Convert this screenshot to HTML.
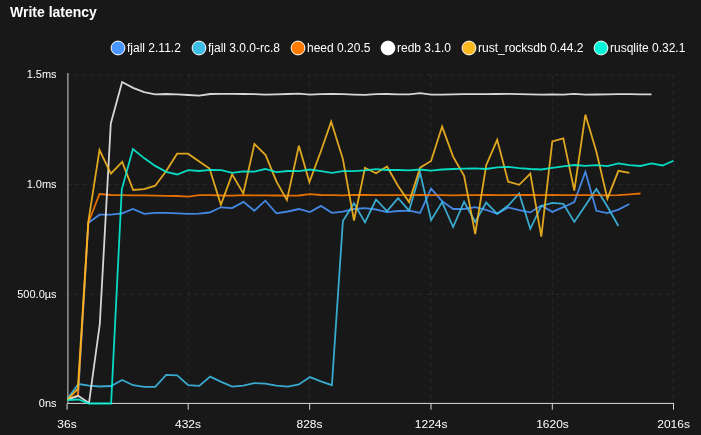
<!DOCTYPE html>
<html><head><meta charset="utf-8"><title>Write latency</title>
<style>
html,body{margin:0;padding:0;background:#181818;}
body{width:701px;height:435px;overflow:hidden;position:relative;font-family:"Liberation Sans",Arial,sans-serif;}
svg{position:absolute;left:0;top:0;}
text{font-family:"Liberation Sans",Arial,sans-serif;fill:#fff;}
.t{font-size:14px;font-weight:700;}
.l{font-size:12px;}
.a{font-size:11px;}
.x{font-size:12px;}
</style></head><body>
<svg width="701" height="435" viewBox="0 0 701 435">
<rect width="701" height="435" fill="#181818"/>
<text class="t" x="10" y="17">Write latency</text>
<g>
<circle cx="118" cy="48" r="6.9" fill="#4a96ff" stroke="#fff" stroke-width="1"/><text class="l" x="127" y="51.7">fjall 2.11.2</text>
<circle cx="199" cy="48" r="6.9" fill="#3dbde6" stroke="#fff" stroke-width="1"/><text class="l" x="208" y="51.7">fjall 3.0.0-rc.8</text>
<circle cx="298" cy="48" r="6.9" fill="#ff7b00" stroke="#fff" stroke-width="1"/><text class="l" x="307" y="51.7">heed 0.20.5</text>
<circle cx="388" cy="48" r="6.9" fill="#ffffff" stroke="#fff" stroke-width="1"/><text class="l" x="397" y="51.7">redb 3.1.0</text>
<circle cx="469" cy="48" r="6.9" fill="#fbb920" stroke="#fff" stroke-width="1"/><text class="l" x="478" y="51.7">rust_rocksdb 0.44.2</text>
<circle cx="601" cy="48" r="6.9" fill="#05f5da" stroke="#fff" stroke-width="1"/><text class="l" x="610" y="51.7">rusqlite 0.32.1</text>
</g>
<g stroke="#2a2a2a" stroke-width="1" stroke-dasharray="4 4" fill="none">
<path d="M67 75H673"/><path d="M67 184.4H673"/><path d="M67 294.25H673"/>
<path d="M188.4 75V403"/><path d="M309.6 75V403"/><path d="M431 75V403"/><path d="M552.4 75V403"/><path d="M673.5 75V403"/>
</g>
<g stroke="#dadada" stroke-width="1" fill="none">
<path d="M67.9 73V403.4" stroke="#d0d0d0"/><path d="M67.1 403.4V409.7"/><path d="M67.4 403.4H674"/>
<path d="M188.2 403V409.7"/><path d="M309.7 403V409.7"/><path d="M431 403V409.7"/><path d="M552.3 403V409.7"/><path d="M673.5 403V409.7"/>
</g>
<g fill="none" stroke-opacity="0.88">
<path d="M67.5 399.5 L78.1 395.5 L88.3 222.9 L99.5 214.7 L111.1 214.7 L122.1 213.4 L133.0 209.0 L144.1 213.8 L155.2 212.9 L166.2 212.9 L177.2 213.3 L188.2 213.8 L198.9 213.6 L209.7 212.5 L220.8 207.3 L232.1 208.1 L243.5 201.9 L254.3 210.7 L265.3 200.7 L276.4 213.3 L287.9 211.5 L298.9 209.0 L309.9 212.1 L320.9 205.9 L331.9 212.8 L342.9 211.6 L354.0 209.0 L365.0 208.1 L376.0 209.5 L387.0 212.1 L398.1 211.0 L409.1 210.7 L420.1 212.9 L431.1 188.6 L442.1 201.2 L453.1 209.0 L464.1 209.0 L475.2 207.2 L486.2 209.8 L497.2 213.8 L508.2 207.4 L519.2 210.2 L530.3 212.4 L541.3 205.5 L552.3 211.9 L563.3 207.2 L574.3 202.1 L585.4 171.8 L596.4 210.8 L607.4 213.1 L618.4 209.6 L629.4 204.0" fill="none" stroke="#4a96ff" stroke-width="1.8" stroke-miterlimit="4" stroke-linejoin="miter" stroke-linecap="butt"/>
<path d="M67.5 398.6 L78.5 384.0 L89.0 385.7 L100.0 386.5 L111.1 386.0 L122.1 380.0 L133.1 385.2 L144.1 386.9 L155.2 386.9 L166.2 374.8 L177.2 375.3 L188.2 385.2 L199.2 385.9 L210.2 376.6 L221.2 381.9 L232.3 386.6 L243.3 385.7 L254.3 383.1 L265.3 383.6 L276.4 385.7 L287.9 386.6 L298.9 384.5 L309.9 377.1 L320.9 381.4 L331.9 385.2 L342.9 221.0 L354.0 203.3 L365.0 222.4 L376.0 199.5 L387.0 211.2 L398.1 198.2 L409.1 210.7 L420.1 172.8 L431.1 220.2 L442.1 202.1 L453.1 227.1 L464.1 201.7 L475.2 221.9 L486.2 202.6 L497.2 213.8 L508.2 205.5 L519.2 193.4 L530.3 228.8 L541.3 205.9 L552.3 202.9 L563.3 203.8 L574.3 221.9 L585.4 205.5 L596.4 189.0 L607.4 206.5 L618.4 226.0" fill="none" stroke="#3dbde6" stroke-width="1.8" stroke-miterlimit="4" stroke-linejoin="miter" stroke-linecap="butt"/>
<path d="M67.5 399.5 L77.9 395.0 L88.3 222.9 L99.5 194.0 L111.1 195.0 L122.1 195.2 L133.1 195.3 L144.1 195.4 L155.2 195.6 L166.2 195.8 L177.2 196.0 L188.2 196.6 L199.2 195.2 L210.2 195.2 L221.2 195.5 L232.3 195.7 L243.3 195.2 L254.3 195.3 L265.3 195.4 L276.4 195.5 L287.9 195.7 L298.9 195.5 L309.9 194.2 L320.9 195.0 L331.9 195.2 L342.9 195.3 L354.0 194.9 L365.0 195.0 L376.0 195.1 L387.0 195.2 L398.1 195.2 L409.1 195.2 L420.1 194.9 L431.1 195.1 L442.1 195.2 L453.1 195.3 L464.1 195.2 L475.2 195.1 L486.2 195.0 L497.2 195.1 L508.2 195.1 L519.2 194.8 L530.3 195.0 L541.3 195.1 L552.3 195.0 L563.3 195.1 L574.3 195.1 L585.4 195.2 L596.4 195.2 L607.4 195.3 L618.4 195.2 L629.4 194.3 L640.5 193.5" fill="none" stroke="#ff7b00" stroke-width="1.8" stroke-miterlimit="4" stroke-linejoin="miter" stroke-linecap="butt"/>
<path d="M67.5 399.5 L78.5 396.0 L89.0 403.0 L99.8 324.0 L110.8 123.4 L122.1 82.0 L133.1 87.9 L144.1 92.1 L155.2 94.3 L166.2 94.0 L177.2 94.4 L188.2 95.0 L199.2 95.6 L210.2 94.0 L221.2 93.8 L232.3 93.9 L243.3 94.0 L254.3 94.2 L265.3 94.6 L276.4 94.3 L287.9 94.0 L298.9 93.6 L309.9 94.6 L320.9 94.2 L331.9 93.8 L342.9 94.2 L354.0 94.6 L365.0 94.8 L376.0 94.2 L387.0 94.0 L398.1 94.3 L409.1 94.3 L420.1 93.1 L431.1 94.6 L442.1 94.6 L453.1 94.4 L464.1 94.2 L475.2 94.2 L486.2 94.2 L497.2 94.0 L508.2 93.8 L519.2 94.2 L530.3 94.4 L541.3 94.6 L552.3 94.4 L563.3 94.7 L574.3 93.8 L585.4 94.6 L596.4 94.5 L607.4 94.4 L618.4 94.2 L629.4 94.2 L640.5 94.4 L651.5 94.4" fill="none" stroke="#f0f0f0" stroke-width="1.8" stroke-miterlimit="4" stroke-linejoin="miter" stroke-linecap="butt"/>
<path d="M67.5 399.5 L77.8 389.0 L88.3 221.9 L99.5 150.0 L110.9 173.7 L122.2 161.9 L133.2 190.0 L144.1 189.1 L155.2 185.7 L166.2 171.0 L177.1 153.7 L188.1 153.7 L199.2 161.6 L209.5 168.6 L220.9 204.8 L232.1 174.4 L243.3 193.4 L254.4 144.0 L265.6 155.1 L276.4 181.4 L286.9 200.1 L298.9 145.8 L309.4 182.1 L320.9 151.2 L331.2 121.7 L342.9 159.1 L354.0 220.5 L365.0 167.8 L376.0 173.3 L387.0 166.6 L398.1 186.0 L409.1 202.1 L420.1 167.7 L431.1 160.9 L442.1 126.6 L453.1 156.6 L464.1 175.8 L475.2 234.0 L486.2 165.2 L497.2 139.8 L508.2 181.7 L519.2 184.8 L530.3 173.7 L541.3 236.6 L552.3 141.4 L563.3 138.3 L574.3 190.5 L585.4 114.7 L596.4 151.7 L607.4 198.7 L618.4 170.8 L629.4 172.9" fill="none" stroke="#fbb920" stroke-width="1.8" stroke-miterlimit="4" stroke-linejoin="miter" stroke-linecap="butt"/>
<path d="M67.5 400.0 L78.5 399.5 L89.0 403.5 L100.0 403.5 L111.1 403.5 L121.8 189.3 L132.9 149.0 L144.1 158.1 L155.2 165.9 L166.2 171.9 L177.2 174.5 L188.2 170.2 L199.2 171.0 L210.2 169.8 L221.2 170.2 L232.3 172.8 L243.3 171.4 L254.3 171.6 L265.3 169.0 L276.4 172.2 L287.9 171.0 L298.9 171.2 L309.9 169.5 L320.9 171.2 L331.9 172.9 L342.9 171.2 L354.0 171.2 L365.0 170.3 L376.0 169.1 L387.0 170.0 L398.1 170.0 L409.1 170.3 L420.1 169.5 L431.1 170.7 L442.1 169.5 L453.1 169.0 L464.1 168.6 L475.2 168.3 L486.2 169.0 L497.2 167.4 L508.2 166.9 L519.2 168.1 L530.3 169.0 L541.3 169.5 L552.3 167.8 L563.3 166.4 L574.3 165.0 L585.4 165.9 L596.4 165.2 L607.4 166.2 L618.4 163.4 L629.4 165.2 L640.5 166.0 L651.5 163.4 L662.5 165.5 L673.5 160.7" fill="none" stroke="#05f5da" stroke-width="1.8" stroke-miterlimit="4" stroke-linejoin="miter" stroke-linecap="butt"/>

</g>
<g class="a" text-anchor="end">
<text x="56.6" y="78.3">1.5ms</text><text x="56.6" y="188">1.0ms</text><text x="56.6" y="297.6">500.0µs</text><text x="56.6" y="407.2">0ns</text>
</g>
<g class="x" text-anchor="middle" transform="translate(0,427.8) scale(1,0.93)">
<text x="67" y="0">36s</text><text x="188" y="0">432s</text><text x="309.5" y="0">828s</text><text x="431.2" y="0">1224s</text><text x="552.5" y="0">1620s</text><text x="673.6" y="0">2016s</text>
</g>
</svg>
</body></html>
